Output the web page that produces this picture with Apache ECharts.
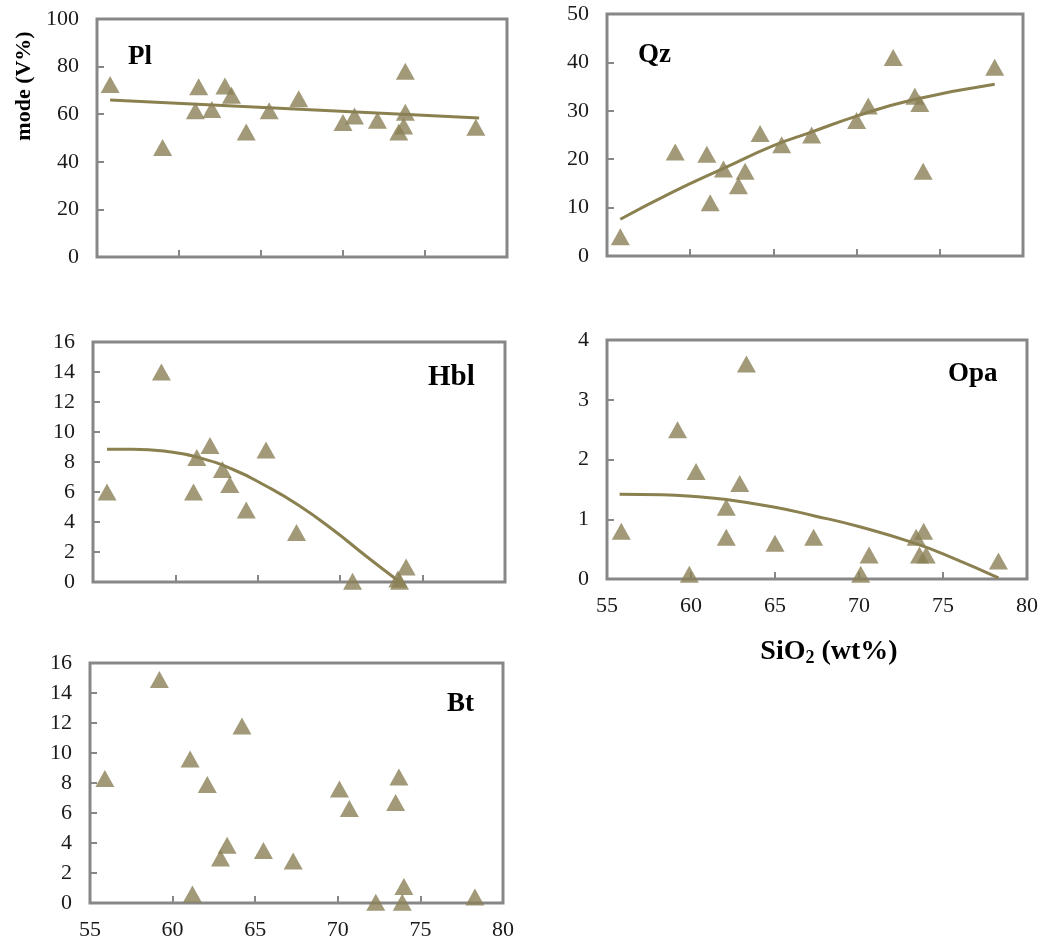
<!DOCTYPE html>
<html>
<head>
<meta charset="utf-8">
<script src="https://cdn.jsdelivr.net/npm/echarts@6/dist/echarts.min.js"></script>
<style>
  html, body { margin: 0; padding: 0; background: #ffffff; }
  #chart { width: 1045px; height: 945px; }
</style>
</head>
<body>
<div id="chart"></div>
<script>
// Modal mineral content (V%) versus SiO2 (wt%)
const xTicks = [55, 60, 65, 70, 75, 80];

const plSiO2 = [55.8, 59.0, 61.0, 61.2, 62.0, 62.8, 63.2, 64.1, 65.5, 67.3, 70.0, 70.7, 72.1, 73.4, 73.7, 73.8, 73.8, 78.1];
const plMode = [72.5, 46, 61.5, 71.5, 62, 71.8, 68, 52.5, 61.5, 66.5, 56.5, 59.2, 57.5, 52.5, 55, 60.8, 78, 54.5];
const plTrend = [[55.8, 66.0], [78.3, 58.4]];

const qzSiO2 = [55.8, 59.1, 61.0, 61.2, 62.0, 62.9, 63.3, 64.2, 65.5, 67.3, 70.0, 70.7, 72.2, 73.5, 73.8, 74.0, 78.3];
const qzMode = [4, 21.5, 21, 11, 18, 14.5, 17.5, 25.3, 23, 25, 28, 31, 41, 33, 31.5, 17.5, 39];
const qzTrend = [[55.8, 7.6], [59.0, 13.3], [62.0, 18.1], [65.0, 22.8], [67.2, 25.5], [70.0, 28.9], [73.4, 32.3], [78.3, 35.5]];

const hblSiO2 = [55.85, 59.15, 61.1, 61.3, 62.1, 62.85, 63.3, 64.3, 65.5, 67.35, 70.75, 73.5, 73.6, 74.0];
const hblMode = [6, 14, 6, 8.3, 9.1, 7.5, 6.5, 4.8, 8.8, 3.3, 0.05, 0.2, 0.05, 1.0];
const hblTrend = [[55.85, 8.85], [57.4, 8.85], [59.5, 8.7], [61.3, 8.33], [63.5, 7.5], [65.5, 6.4], [67.5, 5.1], [69.6, 3.45], [71.6, 1.7], [73.5, 0.1]];

const opaSiO2 = [55.85, 59.2, 59.9, 60.3, 62.1, 62.1, 62.9, 63.3, 65.0, 67.3, 70.1, 70.6, 73.4, 73.85, 73.6, 74.0, 78.3];
const opaMode = [0.8, 2.5, 0.08, 1.8, 1.2, 0.7, 1.6, 3.6, 0.6, 0.7, 0.08, 0.4, 0.7, 0.8, 0.4, 0.4, 0.3];
const opaTrend = [[55.75, 1.42], [58.3, 1.41], [60.2, 1.38], [62.1, 1.33], [65.0, 1.2], [67.3, 1.06], [70.1, 0.87], [73.3, 0.6], [75.6, 0.35], [78.3, 0.02]];

const btSiO2 = [55.9, 59.2, 61.06, 61.2, 62.1, 62.9, 63.3, 64.2, 65.5, 67.3, 70.1, 70.7, 72.3, 73.5, 73.7, 73.9, 74.0, 78.3];
const btMode = [8.3, 14.9, 9.6, 0.6, 7.9, 3.0, 3.85, 11.8, 3.5, 2.8, 7.6, 6.3, 0.05, 6.7, 8.4, 0.05, 1.1, 0.4];

const panels = [
  { name: 'Pl',  xs: plSiO2,  ys: plMode,  trend: plTrend,  yMax: 100, yStep: 20, xLabels: false,
    box: { left: 97,  top: 19,  width: 410, height: 238 }, tag: { x: 128, y: 44, size: 27 } },
  { name: 'Qz',  xs: qzSiO2,  ys: qzMode,  trend: qzTrend,  yMax: 50,  yStep: 10, xLabels: false,
    box: { left: 607, top: 14,  width: 416, height: 242 }, tag: { x: 638, y: 42, size: 27 } },
  { name: 'Hbl', xs: hblSiO2, ys: hblMode, trend: hblTrend, yMax: 16,  yStep: 2,  xLabels: false,
    box: { left: 93,  top: 342, width: 412, height: 240 }, tag: { x: 428, y: 363, size: 29 } },
  { name: 'Opa', xs: opaSiO2, ys: opaMode, trend: opaTrend, yMax: 4,   yStep: 1,  xLabels: true,
    box: { left: 607, top: 340, width: 420, height: 239 }, tag: { x: 948, y: 361, size: 27 } },
  { name: 'Bt',  xs: btSiO2,  ys: btMode,  trend: null,     yMax: 16,  yStep: 2,  xLabels: true,
    box: { left: 90,  top: 663, width: 413, height: 240 }, tag: { x: 447, y: 691, size: 27 } }
];

const serif = '"Liberation Serif", "Times New Roman", serif';
const frame = '#878787';
const olive = '#8a7f55';
const trendColor = '#8b8050';

const grid = [], xAxis = [], yAxis = [], series = [], graphic = [];

panels.forEach((p, i) => {
  grid.push(Object.assign({ show: true, borderColor: frame, borderWidth: 3, backgroundColor: '#fff' }, p.box));
  xAxis.push({
    type: 'value', gridIndex: i, min: xTicks[0], max: xTicks[xTicks.length - 1], interval: 5,
    axisLine: { show: false },
    axisTick: { show: true, inside: true, length: 7, lineStyle: { color: frame, width: 2 } },
    splitLine: { show: false },
    axisLabel: { show: p.xLabels, margin: 16, fontFamily: serif, fontSize: 22, color: '#1a1a1a' }
  });
  yAxis.push({
    type: 'value', gridIndex: i, min: 0, max: p.yMax, interval: p.yStep,
    axisLine: { show: false },
    axisTick: { show: true, inside: true, length: 7, lineStyle: { color: frame, width: 2 } },
    splitLine: { show: false },
    axisLabel: { margin: 18, fontFamily: serif, fontSize: 22, color: '#1a1a1a' }
  });
  if (p.trend) {
    series.push({
      type: 'line', xAxisIndex: i, yAxisIndex: i, data: p.trend, smooth: true,
      showSymbol: false, silent: true, z: 2,
      lineStyle: { color: trendColor, width: 3 }
    });
  }
  series.push({
    type: 'scatter', xAxisIndex: i, yAxisIndex: i, clip: false, z: 3,
    data: p.xs.map((x, k) => [x, p.ys[k]]),
    symbol: 'triangle', symbolSize: [19, 17],
    itemStyle: { color: olive }
  });
  graphic.push({
    type: 'text', left: p.tag.x, top: p.tag.y, z: 10,
    style: { text: p.name, fontFamily: serif, fontWeight: 'bold', fontSize: p.tag.size, fill: '#000' }
  });
});

graphic.push({
  type: 'text', x: 24, y: 86, rotation: Math.PI / 2, z: 10,
  style: { text: 'mode (V%)', fontFamily: serif, fontWeight: 'bold', fontSize: 22, fill: '#000',
           textAlign: 'center', textVerticalAlign: 'middle' }
});
graphic.push({
  type: 'text', x: 829, y: 652, z: 10,
  style: {
    text: '{a|SiO}{s|2}{a| (wt%)}', textAlign: 'center', textVerticalAlign: 'middle',
    rich: {
      a: { fontFamily: serif, fontWeight: 'bold', fontSize: 28, fill: '#000', color: '#000' },
      s: { fontFamily: serif, fontWeight: 'bold', fontSize: 18, fill: '#000', color: '#000', padding: [12, 0, 0, 0] }
    }
  }
});

const chart = echarts.init(document.getElementById('chart'), null, { renderer: 'canvas' });
chart.setOption({ animation: false, backgroundColor: '#ffffff', grid, xAxis, yAxis, series, graphic });
</script>
</body>
</html>
